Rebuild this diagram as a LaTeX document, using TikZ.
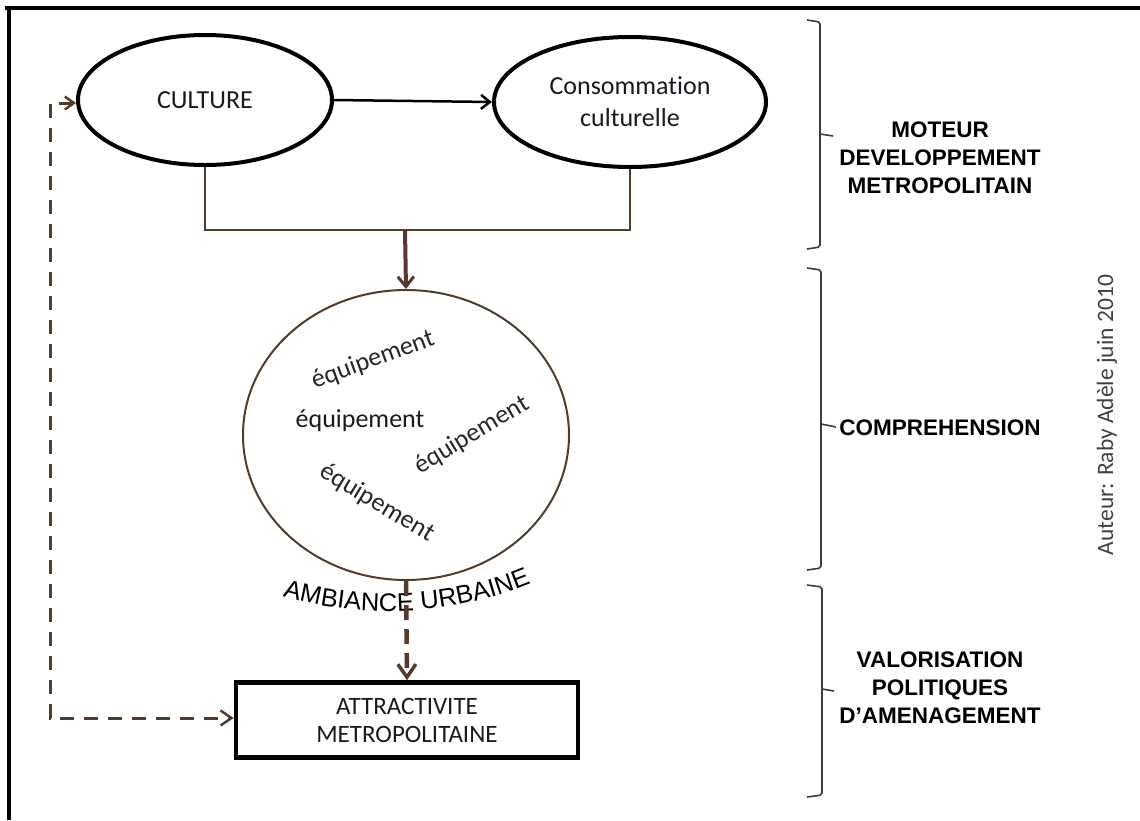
\documentclass[tikz,border=0pt]{standalone}
\usepackage{fontspec}
\setmainfont{Carlito}[Ligatures=NoCommon]
\newfontfamily\arialf{Liberation Sans}
\usetikzlibrary{shapes.geometric,arrows.meta,decorations.text}
\definecolor{brn}{RGB}{82,58,45}
\definecolor{txt}{RGB}{25,25,35}
\definecolor{brc}{RGB}{60,60,60}
\newcommand{\ambfont}{\arialf\fontsize{25.5}{28}\selectfont}
\begin{document}
\begin{tikzpicture}[x=1pt,y=-1pt,
  calib/.style={font=\fontsize{26}{32}\selectfont, text=txt},
  oval/.style={ellipse, draw=black, line width=4, inner sep=0pt, calib, align=center},
  equip/.style={font=\fontsize{26}{30}\selectfont, text=black!85, inner sep=0pt},
  brline/.style={draw=brn, line width=2.5},
  lab/.style={font=\arialf\bfseries\fontsize{22.5}{28}\selectfont, align=center, text=black, inner sep=0pt},
  bracel/.style={draw=brc, line width=1.6, rounded corners=2}
]
\useasboundingbox (0,0) rectangle (1140,820);
% frame (top and left)
\draw[line width=4] (5,8) -- (1140,8);
\draw[line width=4] (9,6) -- (9,820);

% nodes
\node[oval, minimum width=254, minimum height=130] (cult) at (205,100) {CULTURE};
\node[oval, minimum width=272, minimum height=130] (cons) at (630,102) {Consommation\\culturelle};
\node[ellipse, draw=brn, line width=2, minimum width=326, minimum height=290, inner sep=0pt] (amb) at (406,435) {};
\node[draw=black, line width=4.5, minimum width=342, minimum height=75, inner sep=0pt, calib, align=center,
      font=\fontsize{25}{28}\selectfont] (attr) at (407,720) {ATTRACTIVITE\\METROPOLITAINE};

% equipement labels
\node[equip, rotate=20] (e1) at (373,360) {équipement};
\node[equip, text=txt] (e2) at (360,421) {équipement};
\node[equip, rotate=31] (e3) at (472,435) {équipement};
\node[equip, rotate=-31] (e4) at (377,503) {équipement};

% curved label
\path[decorate, decoration={text along path, text align=center,
  text={|\ambfont|AMBIANCE URBAINE}}]
  (266,591) .. controls (340,617) and (445,624) .. (547,576);

% connectors
\coordinate (junc) at (405,230);
\draw[-{Straight Barb[length=9,width=14,line width=2.5]}, line width=2.5] (cult.east) -- (cons.west);
\draw[brline] (cult.south) -- (cult.south |- junc) -- (cons.south |- junc) -- (cons.south);
\draw[draw=brn, line width=4, -{Straight Barb[length=10,width=16,line width=3]}] (junc) -- (amb.north);
\draw[draw=brn, line width=4.5, dash pattern=on 15pt off 9pt, -{Straight Barb[length=13,width=18,line width=3.5]}] (amb.south) -- (attr.north);
\draw[draw=brn, line width=3, dash pattern=on 14pt off 10pt,
  {Straight Barb[length=9,width=13,line width=2.5]}-{Straight Barb[length=11,width=15,line width=2.5]}]
  (cult.west |- 0,103) -- (50,103) -- (50,718) -- (attr.west |- 0,718);

% braces
\draw[bracel] (807,20) -- (820,22) -- (820,247) -- (807,249);
\draw[draw=brc, line width=1.6] (820,134) -- (833,136);
\draw[bracel] (807,268) -- (821,270) -- (821,568) -- (807,570);
\draw[draw=brc, line width=1.6] (821,424) -- (836,427);
\draw[bracel] (807,585) -- (822,587) -- (822,795) -- (807,797);
\draw[draw=brc, line width=1.6] (822,689) -- (834,691);

% side labels
\node[lab] (l1) at (940,158) {MOTEUR\\DEVELOPPEMENT\\METROPOLITAIN};
\node[lab] (l2) at (940,428) {COMPREHENSION};
\node[lab] (l3) at (940,688) {VALORISATION\\POLITIQUES\\D’AMENAGEMENT};

% author
\node[rotate=90, font=\fontsize{23.5}{26}\selectfont, text=black!75, inner sep=0pt] (auth) at (1107,415) {Auteur: Raby Adèle juin 2010};
\end{tikzpicture}
\end{document}
